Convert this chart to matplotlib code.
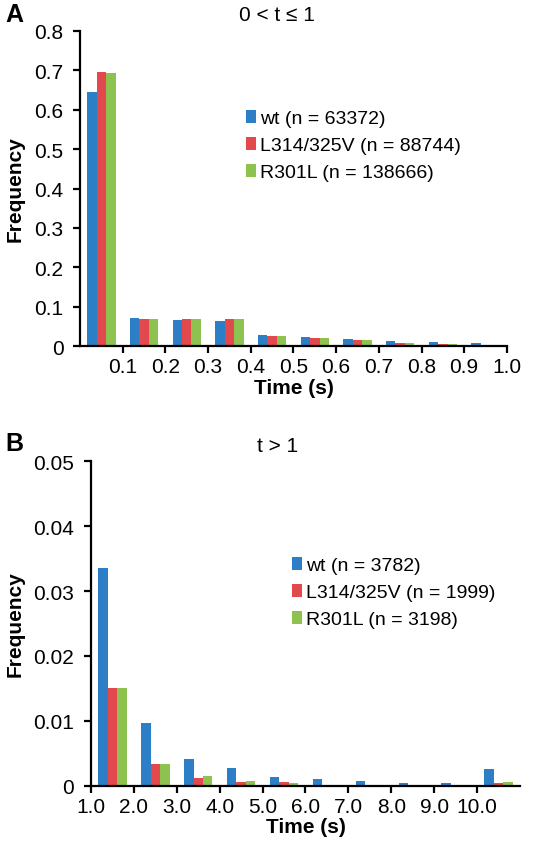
import numpy as np
import matplotlib.pyplot as plt

plt.rcParams['font.family'] = ['Liberation Sans', 'DejaVu Sans']

names = ['wt', 'L314/325V', 'R301L']
colors = ['#2C7FC6', '#E2494D', '#8DC251']

# panel A: 0 < t <= 1, bins of 0.1 s
n_a = [63372, 88744, 138666]
wt_a = [0.645, 0.072, 0.066, 0.064, 0.028, 0.024, 0.017, 0.0135, 0.011, 0.0085]
l314_a = [0.696, 0.070, 0.069, 0.069, 0.025, 0.0195, 0.015, 0.008, 0.006, 0.004]
r301_a = [0.694, 0.069, 0.069, 0.069, 0.025, 0.020, 0.015, 0.0075, 0.005, 0.0035]
ticks_a = ['0.1', '0.2', '0.3', '0.4', '0.5', '0.6', '0.7', '0.8', '0.9', '1.0']

# panel B: t > 1, bins of 1 s
n_b = [3782, 1999, 3198]
wt_b = [0.0335, 0.0096, 0.0041, 0.0027, 0.0013, 0.0010, 0.0008, 0.0004, 0.0004, 0.0026]
l314_b = [0.0150, 0.0033, 0.0012, 0.0006, 0.0005, 0.0001, 0.0, 0.0, 0.0, 0.0004]
r301_b = [0.0150, 0.0033, 0.0015, 0.0008, 0.00045, 0.0001, 0.0, 0.0, 0.0, 0.0006]
ticks_b = ['1.0', '2.0', '3.0', '4.0', '5.0', '6.0', '7.0', '8.0', '9.0', '10.0']

fig = plt.figure(figsize=(5.45, 8.53), dpi=100)
ax1 = fig.add_axes([0.147, 0.593, 0.783, 0.3695])
ax2 = fig.add_axes([0.167, 0.0777, 0.787, 0.3803])


def draw(ax, series, ns, ticks, tick_pos, ymax, ystep, yfmt, leg_anchor, ylab_x):
    x = np.arange(len(series[0])) + 0.5
    w = 0.22
    for i, vals in enumerate(series):
        ax.bar(x + (i - 1) * w, vals, width=w, color=colors[i],
               label='%s (n = %d)' % (names[i], ns[i]))
    ax.set_xlim(0, len(series[0]))
    ax.set_ylim(0, ymax)
    ax.set_xticks(tick_pos)
    ax.set_xticklabels(ticks, fontsize=15)
    yt = np.arange(0, ymax + ystep / 2, ystep)
    ax.set_yticks(yt)
    ax.set_yticklabels(['0'] + [yfmt % v for v in yt[1:]], fontsize=15)
    ax.spines['top'].set_visible(False)
    ax.spines['right'].set_visible(False)
    ax.spines['left'].set_linewidth(1.6)
    ax.spines['bottom'].set_linewidth(1.6)
    ax.tick_params(axis='both', direction='out', width=1.6, length=5)
    ax.tick_params(axis='y', pad=7)
    ax.tick_params(axis='x', pad=3)
    ax.set_xlabel('Time (s)', fontsize=15, fontweight='bold', labelpad=1)
    ax.set_ylabel('Frequency', fontsize=15, fontweight='bold')
    ax.yaxis.set_label_coords(ylab_x, 0.5)
    ax.legend(loc='upper left', bbox_to_anchor=leg_anchor, frameon=False,
              fontsize=14, handlelength=0.55, handleheight=0.65,
              handletextpad=0.2, labelspacing=0.5, borderaxespad=0)


draw(ax1, [wt_a, l314_a, r301_a], n_a, ticks_a, np.arange(1, 11), 0.8, 0.1,
     '%.1f', (0.37, 0.775), -0.129)
draw(ax2, [wt_b, l314_b, r301_b], n_b, ticks_b, np.arange(0, 10), 0.05, 0.01,
     '%.2f', (0.45, 0.73), -0.154)

fig.text(0.508, 0.982, '0 < t \u2264 1', fontsize=15, ha='center', va='center')
fig.text(0.51, 0.476, 't > 1', fontsize=15, ha='center', va='center')
fig.text(0.01, 0.983, 'A', fontsize=18, fontweight='bold', va='center')
fig.text(0.01, 0.479, 'B', fontsize=18, fontweight='bold', va='center')

fig.savefig('out.png', dpi=100)
